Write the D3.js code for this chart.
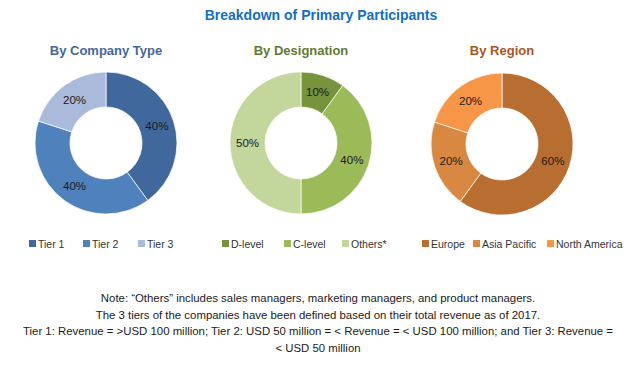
<!DOCTYPE html>
<html>
<head>
<meta charset="utf-8">
<script src="https://cdn.jsdelivr.net/npm/d3@7"></script>
<style>
  body { margin: 0; background: #fff; }
  svg { display: block; font-family: "Liberation Sans", Arial, sans-serif; }
</style>
</head>
<body>
<svg id="chart"></svg>
<script>
// chart data
const companyLabels = ["Tier 1", "Tier 2", "Tier 3"];
const companyValues = [40, 40, 20];
const designationLabels = ["D-level", "C-level", "Others*"];
const designationValues = [10, 40, 50];
const regionLabels = ["Europe", "Asia Pacific", "North America"];
const regionValues = [60, 20, 20];
const notes = [
  "Note: \u201cOthers\u201d includes sales managers, marketing managers, and product managers.",
  "The 3 tiers of the companies have been defined based on their total revenue as of 2017.",
  "Tier 1: Revenue = >USD 100 million; Tier 2: USD 50 million = < Revenue = < USD 100 million; and Tier 3: Revenue =",
  "< USD 50 million"
];

const width = 636, height = 372;
const svg = d3.select("#chart").attr("width", width).attr("height", height);

svg.append("text")
  .attr("x", 321).attr("y", 20)
  .attr("text-anchor", "middle")
  .style("font-size", "14px").style("font-weight", "bold")
  .style("fill", "#1170c2")
  .text("Breakdown of Primary Participants");

const panels = [
  { title: "By Company Type", titleColor: "#44689e", cx: 106, cy: 143,
    labels: companyLabels, values: companyValues,
    colors: ["#41689c", "#4f81bd", "#a9badb"],
    legendX: [29, 83, 138] },
  { title: "By Designation", titleColor: "#5f7a33", cx: 301, cy: 143,
    labels: designationLabels, values: designationValues,
    colors: ["#77933c", "#9bbb59", "#c3d69b"],
    legendX: [222, 284, 342] },
  { title: "By Region", titleColor: "#a9561e", cx: 502, cy: 144,
    labels: regionLabels, values: regionValues,
    colors: ["#b86e30", "#d98842", "#f79646"],
    legendX: [422, 473, 547] }
];

const outerR = 71, innerR = 36;
const arc = d3.arc().innerRadius(innerR).outerRadius(outerR);
const pie = d3.pie().sort(null).value(d => d);

panels.forEach(p => {
  const color = d3.scaleOrdinal().domain(p.labels).range(p.colors);

  svg.append("text")
    .attr("x", p.cx).attr("y", 55)
    .attr("text-anchor", "middle")
    .style("font-size", "13px").style("font-weight", "bold")
    .style("fill", p.titleColor)
    .text(p.title);

  const g = svg.append("g").attr("transform", `translate(${p.cx},${p.cy})`);
  const arcs = pie(p.values);

  g.selectAll("path")
    .data(arcs)
    .join("path")
    .attr("d", arc)
    .attr("fill", (d, i) => color(p.labels[i]))
    .attr("stroke", "#fff")
    .attr("stroke-width", 0.7);

  g.selectAll("text")
    .data(arcs)
    .join("text")
    .attr("transform", d => `translate(${arc.centroid(d)})`)
    .attr("text-anchor", "middle")
    .attr("dy", "0.35em")
    .style("font-size", "11.5px")
    .style("fill", "#1a1a1a")
    .text(d => d.data + "%");

  // legend
  const leg = svg.append("g");
  p.labels.forEach((lab, i) => {
    leg.append("rect")
      .attr("x", p.legendX[i]).attr("y", 240)
      .attr("width", 7).attr("height", 7)
      .attr("fill", color(lab));
    leg.append("text")
      .attr("x", p.legendX[i] + 9).attr("y", 247.5)
      .style("font-size", "10.5px")
      .style("fill", "#333")
      .text(lab);
  });
});

svg.append("g").selectAll("text")
  .data(notes)
  .join("text")
  .attr("x", 318)
  .attr("y", (d, i) => 302 + i * 16.5)
  .attr("text-anchor", "middle")
  .style("font-size", "11.4px")
  .style("fill", "#1a1a1a")
  .text(d => d);
</script>
</body>
</html>
